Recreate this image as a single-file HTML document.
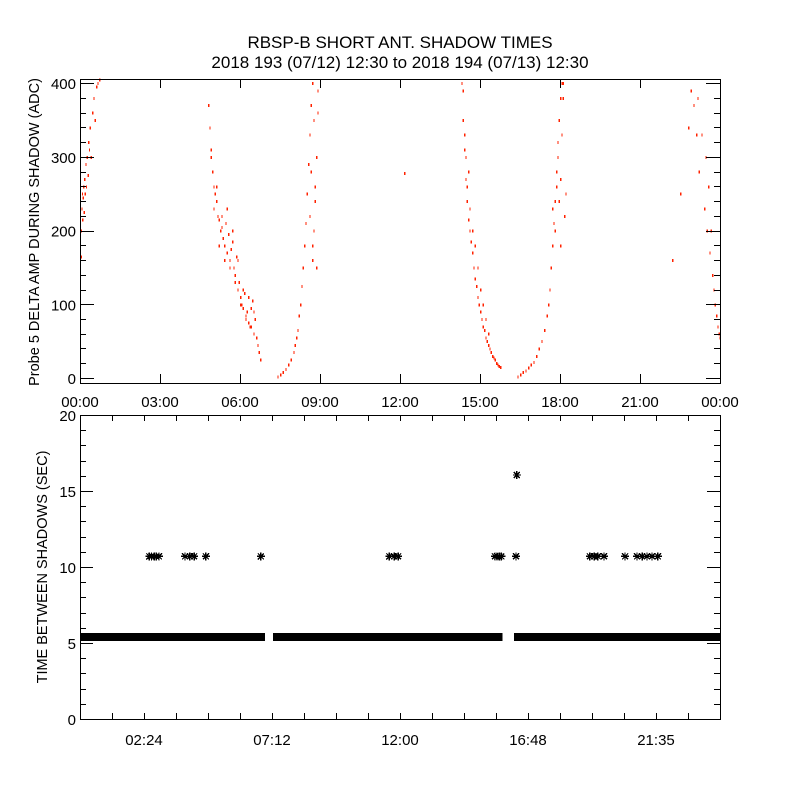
<!DOCTYPE html>
<html><head><meta charset="utf-8"><style>
html,body{margin:0;padding:0;background:#fff;}
svg{display:block;font-family:"Liberation Sans",sans-serif;}
</style></head><body>
<svg id="chart" width="800" height="800" viewBox="0 0 800 800" shape-rendering="crispEdges">
<rect width="800" height="800" fill="#fff"/>
<text x="400" y="48" font-size="17" text-anchor="middle">RBSP-B SHORT ANT. SHADOW TIMES</text>
<text x="400" y="68" font-size="17" text-anchor="middle">2018 193 (07/12) 12:30 to 2018 194 (07/13) 12:30</text>
<g id="topPanel"></g>
<g id="botPanel"></g>
<text transform="translate(39,232) rotate(-90)" font-size="14.5" text-anchor="middle">Probe 5 DELTA AMP DURING SHADOW (ADC)</text>
<text transform="translate(47,567) rotate(-90)" font-size="14.5" text-anchor="middle">TIME BETWEEN SHADOWS (SEC)</text>
</svg>
<script>
// ---- top panel data (hours, ADC) ----
const ampTimes = [
 0.02,0.03,0.05,0.07,0.08,0.1,0.12,0.13,0.15,0.17,0.2,0.22,0.25,0.28,0.3,0.33,0.36,0.4,0.45,0.5,0.55,0.6,0.65,0.72,
 4.8,4.85,4.9,4.95,5.0,5.05,5.1,5.15,5.2,5.25,5.3,5.35,5.4,5.45,5.5,5.55,5.6,5.65,5.7,5.75,5.8,5.85,5.9,5.95,6.0,6.05,6.1,6.15,6.2,6.25,6.3,6.35,6.4,6.45,6.5,6.55,6.6,6.65,6.7,6.75,
 4.9,5.0,5.1,5.2,5.3,5.4,5.5,5.6,5.7,5.8,5.9,6.0,6.1,6.2,6.3,6.4,6.5,
 7.4,7.5,7.6,7.7,7.8,7.9,8.0,8.05,8.1,8.15,8.2,8.25,8.3,8.35,8.4,8.45,8.5,8.55,8.6,8.65,8.7,
 8.6,8.65,8.7,8.75,8.8,8.85,8.9,8.7,8.8,8.9,8.75,8.85,
 12.15,
 14.3,14.35,14.4,14.45,14.5,14.55,14.6,14.65,14.7,14.75,14.8,14.85,14.9,14.95,15.0,15.05,15.1,15.15,15.2,15.25,15.3,15.35,15.4,15.45,15.5,15.55,15.6,15.65,15.7,15.75,
 14.35,14.4,14.45,14.5,14.55,14.6,14.7,14.8,14.9,15.0,15.1,15.2,15.3,
 16.4,16.5,16.6,16.7,16.8,16.9,17.0,17.1,17.2,17.3,17.4,17.5,17.55,17.6,17.65,17.7,17.75,17.8,17.85,17.9,17.95,18.0,18.05,
 17.7,17.8,17.85,17.9,17.95,18.0,18.05,18.1,18.15,18.2,18.1,18.0,
 22.2,22.5,22.8,22.9,23.0,23.1,23.15,23.2,23.3,23.4,23.45,23.5,23.55,23.6,23.65,23.7,23.75,23.8,23.85,23.9,23.95,23.98];
const ampValues = [
 165,200,230,250,215,245,260,225,270,250,290,260,300,275,320,310,340,300,360,380,350,395,400,405,
 370,340,310,280,260,250,240,220,215,200,205,190,180,210,170,195,160,175,185,150,140,165,120,130,110,100,95,115,85,90,75,70,95,105,60,80,55,45,35,25,
 300,230,260,180,220,160,230,150,200,130,160,100,120,80,110,70,90,
 2,5,8,12,18,25,35,45,55,65,85,100,125,150,180,210,250,290,330,370,400,
 220,280,180,350,260,300,360,160,240,390,200,150,
 278,
 400,350,310,270,240,215,200,185,170,150,135,125,110,100,90,80,70,65,55,50,45,40,35,30,28,25,20,18,16,15,
 390,330,300,260,280,230,200,180,150,120,100,80,60,
 2,5,8,10,14,18,22,30,40,50,65,85,100,120,150,180,210,240,280,320,350,380,400,
 230,200,260,300,240,270,330,380,220,250,400,180,
 160,250,340,390,370,330,380,280,330,230,300,200,260,170,200,140,120,100,85,70,60,55];
// ---- bottom panel data ----
const baseValue = [5.4];
const baseStart = [0.0, 7.24, 16.27];
const baseEnd   = [6.94, 15.85, 24.0];
const starTimes = [2.6,2.68,2.78,2.86,2.96,3.94,4.12,4.28,4.72,6.78,11.6,11.78,11.93,15.56,15.64,15.72,15.8,16.35,19.12,19.28,19.42,19.65,20.44,20.89,21.08,21.26,21.45,21.67,16.38];
const starValues = [10.7,10.7,10.7,10.7,10.7,10.7,10.7,10.7,10.7,10.7,10.7,10.7,10.7,10.7,10.7,10.7,10.7,10.7,10.7,10.7,10.7,10.7,10.7,10.7,10.7,10.7,10.7,10.7,16.05];
const topYTicks = [0,100,200,300,400];
const topXLabels = ["00:00","03:00","06:00","09:00","12:00","15:00","18:00","21:00","00:00"];
const botYTicks = [0,5,10,15,20];
const botXLabels = ["02:24","07:12","12:00","16:48","21:35"];

const NS="http://www.w3.org/2000/svg";
function mk(parent,tag,attrs){const e=document.createElementNS(NS,tag);for(const k in attrs)e.setAttribute(k,attrs[k]);parent.appendChild(e);return e;}
const L=80,R=720;
const xS=h=>L+(h/24)*(R-L);
const tT=79,tB=383,tMin=-6.8,tMax=405.5;
const yT=v=>tB-(v-tMin)/(tMax-tMin)*(tB-tT);
const bT=415,bB=719;
const yB=v=>bB-(v/20)*(bB-bT);

const topG=document.getElementById('topPanel');
const botG=document.getElementById('botPanel');

const pts=mk(topG,'g',{});


const nPts=Math.min(ampTimes.length,ampValues.length);
for(let i=0;i<nPts;i++){
  const v=Math.min(ampValues[i],tMax);
  const r=mk(pts,'rect',{x:xS(ampTimes[i]).toFixed(1),y:(yT(v)-1).toFixed(1),width:1.3,height:3,fill:'#ff2200'});
  
  
}
let p='';
for(let v=0;v<=400;v+=20){const y=Math.round(yT(v))+0.5;const len=(v%100===0)?14:6;p+=`M${L},${y}h${len}M${R},${y}h${-len}`;}
for(let h=0;h<=24;h+=3){const x=Math.round(xS(h))+0.5;p+=`M${x},${tB}v-9M${x},${tT}v9`;}
const tf=mk(topG,'path',{d:p,stroke:'#000','stroke-width':1,fill:'none'});


const tfr=mk(topG,'rect',{x:L+0.5,y:tT+0.5,width:R-L,height:tB-tT,fill:'none',stroke:'#000'});


topYTicks.forEach(v=>{const t=mk(topG,'text',{x:L-4,y:yT(v)+6,'font-size':15,'text-anchor':'end'});t.textContent=v;
 
 });
topXLabels.forEach((s,i)=>{const t=mk(topG,'text',{x:xS(i*3),y:407,'font-size':15,'text-anchor':'middle'});t.textContent=s;
 
 });

function star(g,x,y){
  return mk(g,'path',{d:`M${x-4},${y}h8M${x},${y-4}v8M${x-3},${y-3}l6,6M${x-3},${y+3}l6,-6`,stroke:'#000','stroke-width':1.3,fill:'none'});
}
const band=mk(botG,'g',{});


for(let k=0;k<baseStart.length;k++){
  const y=yB(baseValue[0]);
  const x0=xS(baseStart[k])+4,x1=xS(baseEnd[k])-4;
  const r=mk(band,'rect',{x:x0-4,y:y-4,width:(x1-x0)+8,height:8,fill:'#000'});
  
  
}
const stars=mk(botG,'g',{});


for(let i=0;i<starTimes.length;i++){
  const s=star(stars,xS(starTimes[i]),yB(starValues[i]));
  
  
}
p='';
for(let v=0;v<=20;v++){const y=Math.round(yB(v))+0.5;const len=(v%5===0)?13:6;p+=`M${L},${y}h${len}M${R},${y}h${-len}`;}
for(let h=1.2;h<24;h+=1.2){const x=Math.round(xS(h))+0.5;p+=`M${x},${bB}v-6M${x},${bT}v6`;}
const bf=mk(botG,'path',{d:p,stroke:'#000','stroke-width':1,fill:'none'});


const bfr=mk(botG,'rect',{x:L+0.5,y:bT+0.5,width:R-L,height:bB-bT,fill:'none',stroke:'#000'});


botYTicks.forEach(v=>{const t=mk(botG,'text',{x:L-4,y:yB(v)+6,'font-size':15,'text-anchor':'end'});t.textContent=v;
 
 });
botXLabels.forEach((s,i)=>{const t=mk(botG,'text',{x:xS(2.4+i*4.8),y:745,'font-size':15,'text-anchor':'middle'});t.textContent=s;
 
 });
</script>
</body></html>
